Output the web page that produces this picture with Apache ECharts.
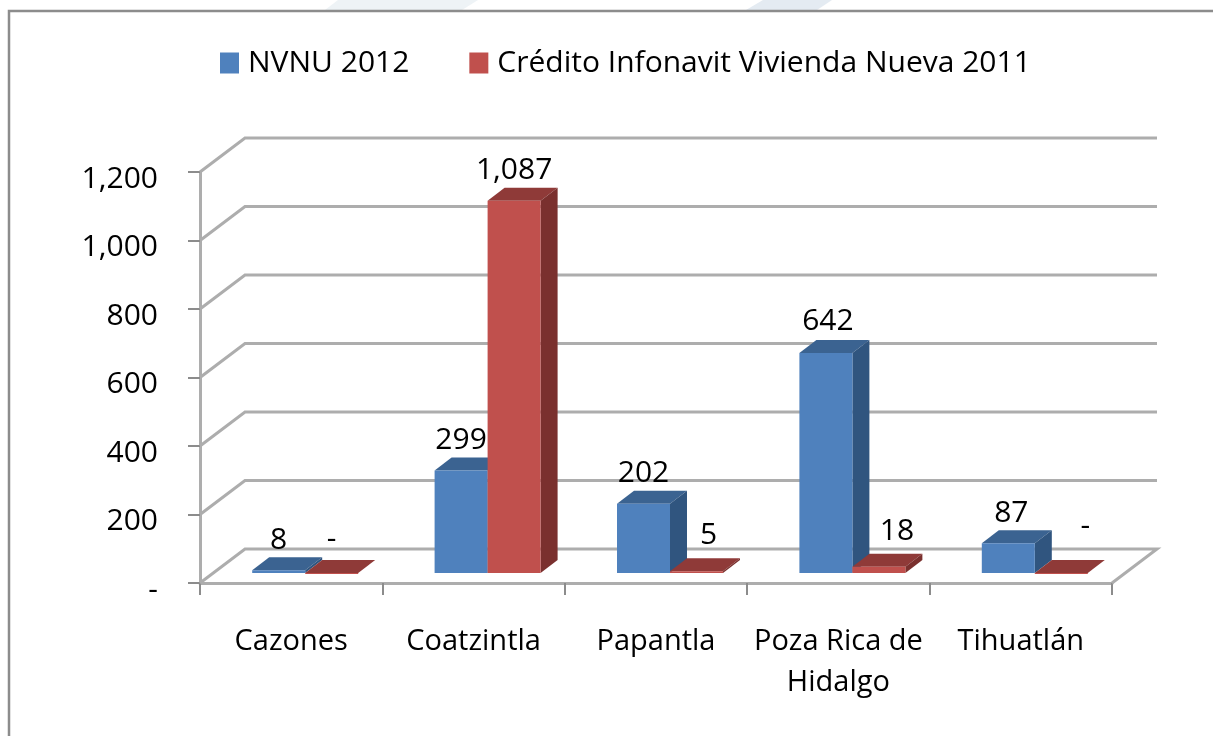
<!DOCTYPE html>
<html>
<head>
<meta charset="utf-8">
<style>
  html, body { margin: 0; padding: 0; background: #fff; }
  #chart { width: 1213px; height: 736px; }
</style>
<script src="https://cdn.jsdelivr.net/npm/echarts@6/dist/echarts.min.js"></script>
</head>
<body>
<div id="chart"></div>
<script>
var categories = ['Cazones', 'Coatzintla', 'Papantla', 'Poza Rica de\nHidalgo', 'Tihuatlán'];
var seriesNames = ['NVNU 2012', 'Crédito Infonavit Vivienda Nueva 2011'];
var nvnu = [8, 299, 202, 642, 87];
var credito = [0, 1087, 5, 18, 0];
var creditoLabels = ['-', '1,087', '5', '18', '-'];
var nvnuLabels = ['8', '299', '202', '642', '87'];
var yTicks = [0, 200, 400, 600, 800, 1000, 1200];

// look of the fake 3D box
var FONT = 'Open Sans';
var WALL_DX = 45, WALL_DY = -34;   // back wall offset
var BAR_DX = 14, BAR_DY = -10;     // bars stand a little behind the front edge
var DEPTH_DX = 17, DEPTH_DY = -13; // bar depth
var BAR_W = 53;
// hand moved labels, excel put them where it liked
var nudgeBlue = [[0, 0], [0, 0], [0, 0], [2, -2], [3, 0]];
var nudgeRed = [[0, -4], [0, 0], [12, -6], [18, -5], [24, -17]];

function wallItem(params, api) {
  var c = params.coordSys;
  var y = api.coord([0, api.value(0)])[1];
  var x0 = c.x, x1 = c.x + c.width;
  var pts = [[x0, y], [x0 + WALL_DX, y + WALL_DY], [x1 + WALL_DX, y + WALL_DY]];
  if (api.value(0) === 0) pts.push([x1, y]);
  return {
    type: 'polyline',
    shape: { points: pts },
    style: { fill: null, stroke: '#adadad', lineWidth: 3 }
  };
}

function barRenderer(offset, front, top, side, texts, nudge) {
  return function (params, api) {
    var i = api.value(0);
    var v = api.value(1);
    var base = api.coord([i, 0]);
    var head = api.coord([i, v]);
    var x0 = base[0] + BAR_DX + offset * BAR_W;
    var x1 = x0 + BAR_W;
    var yb = base[1] + BAR_DY;
    var yt = head[1] + BAR_DY;
    var n = nudge[i];
    return {
      type: 'group',
      children: [
        { type: 'polygon', shape: { points: [[x0, yt], [x0 + DEPTH_DX, yt + DEPTH_DY], [x1 + DEPTH_DX, yt + DEPTH_DY], [x1, yt]] }, style: { fill: top } },
        { type: 'polygon', shape: { points: [[x1, yt], [x1 + DEPTH_DX, yt + DEPTH_DY], [x1 + DEPTH_DX, yb + DEPTH_DY], [x1, yb]] }, style: { fill: side } },
        { type: 'rect', shape: { x: x0, y: yt, width: BAR_W, height: Math.max(yb - yt, 1) }, style: { fill: front } },
        {
          type: 'text',
          x: (x0 + x1) / 2 + n[0],
          y: yt - 30 + n[1],
          style: { text: texts[i], fontFamily: FONT, fontSize: 30, fill: '#000', align: 'center', verticalAlign: 'middle' }
        }
      ]
    };
  };
}

var chart = echarts.init(document.getElementById('chart'), null, { renderer: 'canvas' });
chart.setOption({
  animation: false,
  backgroundColor: '#fff',
  textStyle: { fontFamily: FONT },
  graphic: [
    // pale bands of the slide behind the chart
    { type: 'polygon', silent: true, shape: { points: [[338, 0], [478, 0], [462, 10], [325, 10]] }, style: { fill: '#eef3f6' } },
    { type: 'polygon', silent: true, shape: { points: [[763, 0], [832, 0], [817, 10], [746, 10]] }, style: { fill: '#e4ebf2' } },
    // chart frame, runs off the page right and bottom
    { type: 'polyline', silent: true, shape: { points: [[9, 736], [9, 11], [1213, 11]] }, style: { fill: null, stroke: '#8c8c8c', lineWidth: 2.5 } }
  ],
  legend: {
    left: 215,
    top: 43,
    itemWidth: 19,
    itemHeight: 21,
    itemGap: 60,
    icon: 'rect',
    data: seriesNames,
    textStyle: { fontFamily: FONT, fontSize: 30, color: '#000', padding: [0, 0, 0, 4] }
  },
  grid: { left: 200, top: 172, width: 912, height: 411, containLabel: false },
  xAxis: {
    type: 'category',
    data: categories,
    boundaryGap: true,
    axisLine: { show: true, lineStyle: { color: '#adadad', width: 3 } },
    axisTick: { show: true, alignWithLabel: false, length: 12, lineStyle: { color: '#8c8c8c', width: 2 } },
    axisLabel: { fontFamily: FONT, fontSize: 29, color: '#000', margin: 38, lineHeight: 41, interval: 0 }
  },
  yAxis: {
    type: 'value',
    min: 0,
    max: 1200,
    interval: 200,
    splitLine: { show: false },
    axisLine: { show: true, lineStyle: { color: '#adadad', width: 3 } },
    axisTick: { show: true, length: 12, lineStyle: { color: '#8c8c8c', width: 2 } },
    axisLabel: {
      margin: 42,
      rich: { t: { fontFamily: FONT, fontSize: 30, color: '#000', padding: [14, 0, 0, 0] } },
      formatter: function (v) {
        if (v === 0) return '{t|-}';
        return '{t|' + (v >= 1000 ? String(v).replace(/(\d)(\d{3})$/, '$1,$2') : String(v)) + '}';
      }
    }
  },
  series: [
    {
      name: 'walls',
      type: 'custom',
      silent: true,
      coordinateSystem: 'cartesian2d',
      encode: { y: 0 },
      data: yTicks.map(function (t) { return [t]; }),
      renderItem: wallItem
    },
    {
      name: seriesNames[0],
      type: 'custom',
      coordinateSystem: 'cartesian2d',
      itemStyle: { color: '#4f81bd' },
      encode: { x: 0, y: 1 },
      data: nvnu.map(function (v, i) { return [i, v]; }),
      renderItem: barRenderer(-1, '#4f81bd', '#3b6391', '#30557f', nvnuLabels, nudgeBlue)
    },
    {
      name: seriesNames[1],
      type: 'custom',
      coordinateSystem: 'cartesian2d',
      itemStyle: { color: '#c0504d' },
      encode: { x: 0, y: 1 },
      data: credito.map(function (v, i) { return [i, v]; }),
      renderItem: barRenderer(0, '#c0504d', '#8f3a38', '#7a302e', creditoLabels, nudgeRed)
    }
  ]
});
</script>
</body>
</html>
